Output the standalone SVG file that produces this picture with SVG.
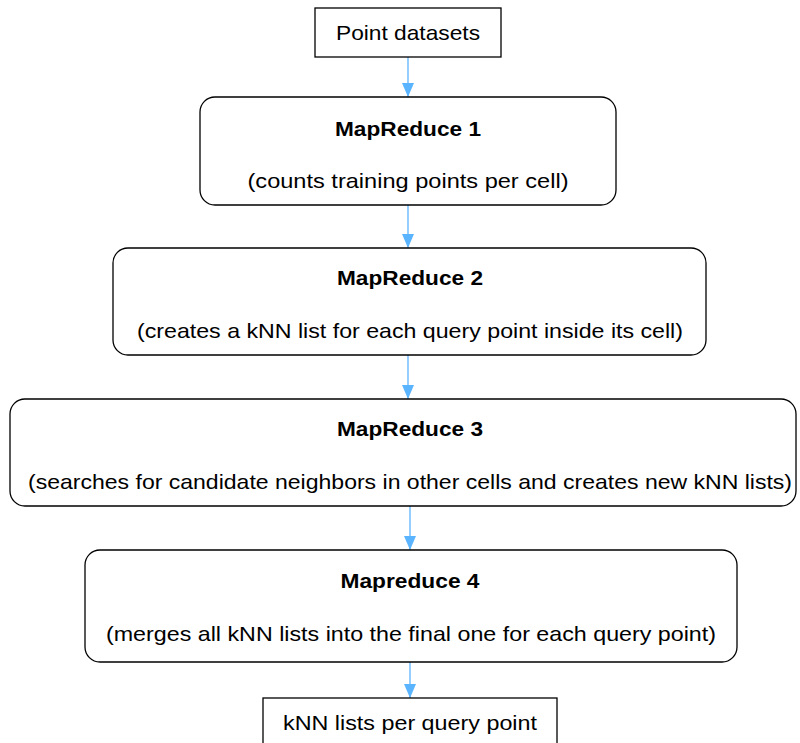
<svg xmlns="http://www.w3.org/2000/svg" width="800" height="743" viewBox="0 0 800 743">
<defs>
<style>
.box{fill:#fff;stroke:#000;stroke-width:1.3}
.t{font-family:"Liberation Sans",Arial,sans-serif;font-size:21px;fill:#000;text-anchor:middle}
.b{font-weight:bold}
.c{stroke:#5BB4FF;stroke-width:1.3;fill:none}
</style>
<marker id="ah" markerWidth="14" markerHeight="12" refX="14" refY="6" orient="auto" markerUnits="userSpaceOnUse">
<path d="M0,0 L14,6 L0,12 Z" fill="#5BB4FF"/>
</marker>
</defs>
<rect width="800" height="743" fill="#fff"/>
<g id="connectors">
<line class="c" x1="408" y1="57" x2="408" y2="97" marker-end="url(#ah)"/>
<line class="c" x1="408" y1="205" x2="408" y2="248" marker-end="url(#ah)"/>
<line class="c" x1="408" y1="355" x2="408" y2="399" marker-end="url(#ah)"/>
<line class="c" x1="410" y1="506" x2="410" y2="550" marker-end="url(#ah)"/>
<line class="c" x1="410" y1="662" x2="410" y2="698" marker-end="url(#ah)"/>
</g>
<g id="n0">
<rect class="box" x="315" y="8" width="186" height="49"/>
<text class="t" x="408" y="40" textLength="144" lengthAdjust="spacingAndGlyphs">Point datasets</text>
</g>
<g id="n1">
<rect class="box" x="200" y="97" width="416" height="108" rx="15"/>
<text class="t b" x="408" y="136" textLength="146" lengthAdjust="spacingAndGlyphs">MapReduce 1</text>
<text class="t" x="408" y="188" textLength="321" lengthAdjust="spacingAndGlyphs">(counts training points per cell)</text>
</g>
<g id="n2">
<rect class="box" x="113" y="248" width="593" height="107" rx="15"/>
<text class="t b" x="410" y="285" textLength="146" lengthAdjust="spacingAndGlyphs">MapReduce 2</text>
<text class="t" x="410" y="338" textLength="546" lengthAdjust="spacingAndGlyphs">(creates a kNN list for each query point inside its cell)</text>
</g>
<g id="n3">
<rect class="box" x="10" y="399" width="786" height="107" rx="15"/>
<text class="t b" x="410" y="436" textLength="146" lengthAdjust="spacingAndGlyphs">MapReduce 3</text>
<text class="t" x="410" y="489" textLength="764" lengthAdjust="spacingAndGlyphs">(searches for candidate neighbors in other cells and creates new kNN lists)</text>
</g>
<g id="n4">
<rect class="box" x="85" y="550" width="652" height="112" rx="15"/>
<text class="t b" x="410" y="588" textLength="139" lengthAdjust="spacingAndGlyphs">Mapreduce 4</text>
<text class="t" x="411" y="641" textLength="610" lengthAdjust="spacingAndGlyphs">(merges all kNN lists into the final one for each query point)</text>
</g>
<g id="n5">
<rect class="box" x="263" y="698" width="294" height="60"/>
<text class="t" x="410" y="730" textLength="254" lengthAdjust="spacingAndGlyphs">kNN lists per query point</text>
</g>
</svg>
